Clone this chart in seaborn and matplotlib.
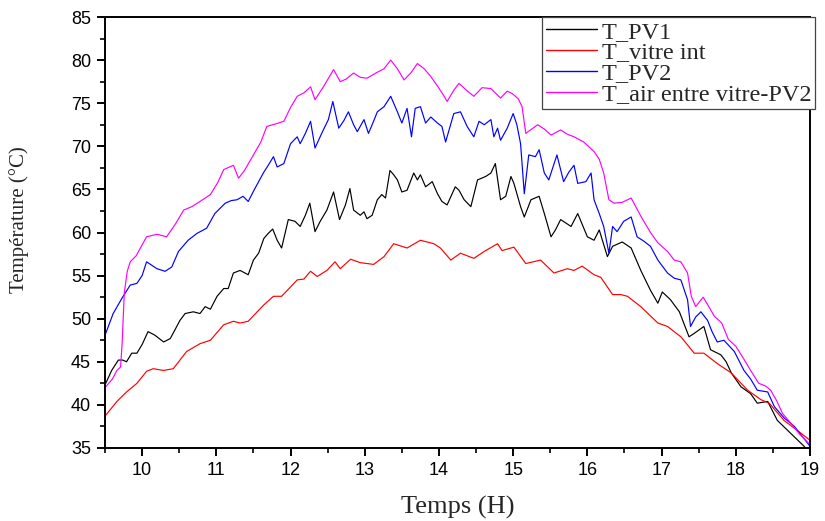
import matplotlib
matplotlib.use("Agg")
import matplotlib.pyplot as plt
from matplotlib.ticker import MultipleLocator
import numpy as np
import pandas as pd
import seaborn as sns

# ---- measured temperatures (time in hours, temperature in °C) ----
t_pv1 = [9.51, 9.59, 9.68, 9.74, 9.79, 9.86, 9.93, 10.00, 10.08, 10.17,
         10.29, 10.38, 10.51, 10.58, 10.69, 10.78, 10.85, 10.92, 11.01, 11.10,
         11.16, 11.23, 11.32, 11.43, 11.50, 11.57, 11.64, 11.70, 11.76, 11.82,
         11.88, 11.97, 12.06, 12.13, 12.20, 12.26, 12.33, 12.40, 12.49, 12.58,
         12.66, 12.74, 12.80, 12.85, 12.94, 12.99, 13.03, 13.10, 13.17, 13.23,
         13.28, 13.34, 13.39, 13.44, 13.50, 13.57, 13.66, 13.71, 13.75, 13.82,
         13.91, 13.98, 14.04, 14.11, 14.22, 14.27, 14.34, 14.43, 14.52, 14.63,
         14.70, 14.76, 14.83, 14.90, 14.97, 15.01, 15.10, 15.15, 15.24, 15.35,
         15.42, 15.51, 15.57, 15.64, 15.78, 15.87, 16.00, 16.09, 16.16, 16.27,
         16.34, 16.47, 16.59, 16.72, 16.85, 16.95, 17.01, 17.12, 17.24, 17.37,
         17.44, 17.57, 17.66, 17.80, 17.87, 17.94, 18.07, 18.20, 18.29, 18.43,
         18.56, 18.74, 18.92, 19.00]
pv1 = [42.5, 44.0, 45.2, 45.2, 45.0, 46.0, 46.0, 47.0, 48.5, 48.1,
       47.3, 47.7, 49.8, 50.6, 50.8, 50.6, 51.4, 51.1, 52.6, 53.5,
       53.5, 55.3, 55.6, 55.1, 56.8, 57.6, 59.3, 59.9, 60.4, 59.1,
       58.2, 61.5, 61.3, 60.7, 62.0, 63.4, 60.1, 61.3, 62.6, 64.7,
       61.5, 63.2, 65.1, 62.6, 62.0, 62.4, 61.6, 62.0, 63.8, 64.4,
       64.0, 67.2, 66.7, 66.1, 64.7, 64.9, 66.9, 66.1, 66.7, 65.3,
       65.9, 64.5, 63.6, 63.2, 65.3, 64.9, 63.8, 63.0, 66.1, 66.5,
       66.9, 68.0, 63.8, 64.2, 66.5, 65.7, 63.0, 61.8, 63.8, 64.2,
       62.2, 59.5, 60.3, 61.5, 60.7, 62.2, 59.5, 59.1, 60.3, 57.2,
       58.4, 58.9, 58.2, 55.6, 53.3, 51.8, 53.1, 52.2, 50.8, 47.9,
       48.3, 49.1, 46.4, 45.8, 45.0, 43.7, 42.1, 41.3, 40.2, 40.4,
       38.2, 36.7, 35.2, 34.4]

t_vitre = [9.51, 9.66, 9.79, 9.93, 10.06, 10.15, 10.29, 10.42, 10.60, 10.78,
           10.92, 11.10, 11.23, 11.32, 11.43, 11.64, 11.77, 11.88, 12.09, 12.18,
           12.27, 12.36, 12.49, 12.60, 12.67, 12.81, 12.94, 13.12, 13.26, 13.39,
           13.57, 13.75, 13.93, 14.02, 14.16, 14.29, 14.47, 14.61, 14.79, 14.85,
           15.01, 15.17, 15.37, 15.55, 15.73, 15.82, 15.93, 16.09, 16.18, 16.34,
           16.45, 16.54, 16.72, 16.95, 17.08, 17.26, 17.44, 17.57, 17.75, 17.94,
           18.16, 18.34, 18.45, 18.65, 18.88, 19.00]
vitre = [38.8, 40.4, 41.5, 42.5, 43.9, 44.2, 44.0, 44.2, 46.2, 47.1,
         47.5, 49.3, 49.7, 49.5, 49.7, 51.6, 52.6, 52.6, 54.5, 54.6,
         55.5, 54.9, 55.6, 56.6, 55.8, 56.9, 56.5, 56.3, 57.2, 58.7,
         58.2, 59.1, 58.7, 58.2, 56.8, 57.6, 57.0, 57.8, 58.7, 57.9,
         58.3, 56.4, 56.8, 55.3, 55.8, 55.6, 56.1, 55.1, 54.8, 52.8,
         52.8, 52.6, 51.4, 49.5, 49.1, 47.9, 46.0, 46.0, 44.8, 43.7,
         41.7, 40.6, 40.2, 38.2, 36.7, 35.9]

t_pv2 = [9.51, 9.61, 9.73, 9.84, 9.93, 10.00, 10.06, 10.13, 10.20, 10.31,
         10.40, 10.49, 10.62, 10.74, 10.87, 10.98, 11.05, 11.12, 11.20, 11.28,
         11.36, 11.43, 11.52, 11.64, 11.70, 11.77, 11.82, 11.91, 12.00, 12.09,
         12.13, 12.20, 12.27, 12.33, 12.42, 12.51, 12.57, 12.65, 12.72, 12.78,
         12.85, 12.90, 12.99, 13.05, 13.10, 13.17, 13.26, 13.35, 13.44, 13.50,
         13.57, 13.63, 13.68, 13.75, 13.82, 13.89, 13.98, 14.04, 14.09, 14.20,
         14.29, 14.38, 14.47, 14.54, 14.61, 14.70, 14.74, 14.79, 14.83, 14.92,
         15.00, 15.05, 15.10, 15.15, 15.21, 15.30, 15.35, 15.42, 15.48, 15.59,
         15.68, 15.75, 15.82, 15.87, 15.98, 16.05, 16.09, 16.16, 16.22, 16.29,
         16.34, 16.40, 16.49, 16.59, 16.67, 16.76, 16.85, 16.95, 17.08, 17.17,
         17.26, 17.35, 17.39, 17.46, 17.53, 17.62, 17.68, 17.75, 17.84, 17.98,
         18.11, 18.20, 18.29, 18.43, 18.52, 18.65, 18.79, 18.90, 19.00]
pv2 = [48.3, 50.6, 52.4, 53.9, 54.1, 55.0, 56.6, 56.2, 55.8, 55.5,
       56.0, 57.8, 59.1, 59.9, 60.5, 62.2, 62.8, 63.4, 63.7, 63.8,
       64.2, 63.6, 65.1, 67.0, 67.8, 68.8, 67.6, 68.0, 70.3, 71.1,
       70.3, 71.5, 72.9, 69.8, 71.5, 73.1, 75.2, 72.1, 73.0, 74.0,
       72.5, 71.7, 73.1, 71.5, 72.5, 74.0, 74.6, 75.8, 74.0, 72.7,
       74.4, 71.1, 74.4, 74.6, 72.7, 73.4, 72.7, 72.3, 70.5, 73.8,
       74.0, 72.3, 71.1, 72.9, 72.5, 73.1, 71.1, 72.1, 70.7, 72.1,
       73.8, 72.5, 70.3, 64.5, 69.0, 68.8, 69.6, 66.9, 66.1, 69.0,
       65.9, 67.0, 67.8, 65.7, 65.9, 66.9, 63.8, 62.2, 60.7, 57.6,
       60.7, 60.1, 61.3, 61.8, 59.5, 59.0, 58.4, 56.8, 55.3, 54.7,
       54.5, 52.2, 49.1, 50.2, 50.8, 49.8, 48.5, 47.3, 47.5, 46.2,
       44.0, 43.0, 41.7, 41.5, 39.8, 38.5, 37.5, 36.3, 35.2]

t_air = [9.51, 9.60, 9.66, 9.71, 9.73, 9.76, 9.80, 9.84, 9.92, 10.06,
         10.20, 10.33, 10.45, 10.56, 10.67, 10.78, 10.92, 11.02, 11.10, 11.23,
         11.30, 11.38, 11.50, 11.60, 11.68, 11.80, 11.91, 12.00, 12.09, 12.18,
         12.27, 12.33, 12.45, 12.58, 12.67, 12.75, 12.85, 12.94, 13.03, 13.15,
         13.26, 13.35, 13.44, 13.53, 13.62, 13.71, 13.80, 13.89, 13.98, 14.07,
         14.11, 14.20, 14.27, 14.37, 14.47, 14.58, 14.70, 14.83, 14.92, 14.99,
         15.07, 15.12, 15.17, 15.25, 15.33, 15.42, 15.51, 15.64, 15.73, 15.82,
         15.95, 16.09, 16.16, 16.22, 16.29, 16.36, 16.47, 16.59, 16.72, 16.85,
         16.95, 17.08, 17.17, 17.26, 17.35, 17.40, 17.46, 17.56, 17.63, 17.71,
         17.81, 17.90, 18.00, 18.11, 18.20, 18.31, 18.40, 18.47, 18.55, 18.63,
         18.75, 18.86, 19.00]
air = [42.1, 43.0, 44.0, 44.4, 47.0, 53.0, 55.5, 56.6, 57.3, 59.5,
       59.8, 59.5, 61.0, 62.6, 63.0, 63.6, 64.4, 65.8, 67.3, 67.8,
       66.3, 67.2, 69.0, 70.5, 72.3, 72.6, 72.9, 74.5, 75.8, 76.2,
       76.9, 75.4, 77.0, 78.9, 77.5, 77.8, 78.5, 78.0, 77.9, 78.5,
       79.0, 80.0, 79.0, 77.7, 78.5, 79.6, 79.0, 78.1, 77.0, 75.8,
       75.2, 76.5, 77.3, 76.5, 75.8, 76.8, 76.7, 75.6, 76.4, 76.1,
       75.5, 74.6, 71.5, 72.0, 72.5, 72.0, 71.3, 71.9, 71.4, 71.1,
       70.5, 69.4, 68.5, 66.9, 63.8, 63.4, 63.5, 64.0, 61.9, 60.0,
       58.8, 57.8, 56.8, 56.6, 55.3, 52.6, 51.4, 52.5, 51.5, 50.3,
       49.5, 47.6, 46.8, 45.3, 44.0, 42.5, 42.2, 41.7, 40.5, 39.0,
       37.8, 36.6, 35.4]

series_names = ["T_PV1", "T_vitre int", "T_PV2", "T_air entre vitre-PV2"]
series_colors = ["#000000", "#ff0000", "#0000ff", "#ff00ff"]
x_ticks = [10, 11, 12, 13, 14, 15, 16, 17, 18, 19]
y_ticks = [35, 40, 45, 50, 55, 60, 65, 70, 75, 80, 85]

frames = []
for name, tt, vv in zip(series_names,
                        [t_pv1, t_vitre, t_pv2, t_air],
                        [pv1, vitre, pv2, air]):
    frames.append(pd.DataFrame({"Temps": tt, "T": vv, "serie": name}))
df = pd.concat(frames, ignore_index=True)

sns.set_theme(style="ticks")
plt.rcParams["font.family"] = ["Liberation Sans", "DejaVu Sans"]

fig = plt.figure(figsize=(8.25, 5.21), dpi=100)
ax = fig.add_axes([105 / 825, 1 - 448 / 521, (810 - 105) / 825, (448 - 17) / 521])

sns.lineplot(data=df, x="Temps", y="T", hue="serie", hue_order=series_names,
             palette=dict(zip(series_names, series_colors)),
             estimator=None, sort=False, linewidth=0.85, ax=ax)

ax.set_xlim(9.5, 19)
ax.set_ylim(35, 85)
ax.set_xticks(x_ticks)
ax.set_yticks(y_ticks)
ax.xaxis.set_minor_locator(MultipleLocator(0.5))
ax.yaxis.set_minor_locator(MultipleLocator(2.5))
ax.tick_params(which="major", direction="out", length=6, width=1.4,
               labelsize=13, colors="black", pad=4)
ax.tick_params(which="minor", direction="out", length=3.5, width=1.2, colors="black")
for s in ax.spines.values():
    s.set_visible(True)
    s.set_linewidth(1.4)
    s.set_color("black")

serif = ["Liberation Serif", "DejaVu Serif"]
ax.set_xlabel("Temps (H)", fontsize=19, family=serif)
ax.xaxis.set_label_coords(0.5, -0.11)
ax.set_ylabel("Température (°C)", fontsize=15, family=serif)
ax.yaxis.set_label_coords(-0.108, 0.53)

handles, labels = ax.get_legend_handles_labels()
leg = ax.legend(handles, labels, loc="upper right",
                bbox_to_anchor=(815 / 825, 1 - 17 / 521),
                bbox_transform=fig.transFigure, borderaxespad=0,
                frameon=True, fancybox=False, framealpha=1,
                edgecolor="#444444", prop={"family": serif, "size": 17.5},
                handlelength=2.1, handletextpad=0.2, labelspacing=-0.05,
                borderpad=0.15)
leg.get_frame().set_linewidth(0.9)
for line in leg.get_lines():
    line.set_linewidth(1.0)

fig.savefig("out.png", dpi=100)
